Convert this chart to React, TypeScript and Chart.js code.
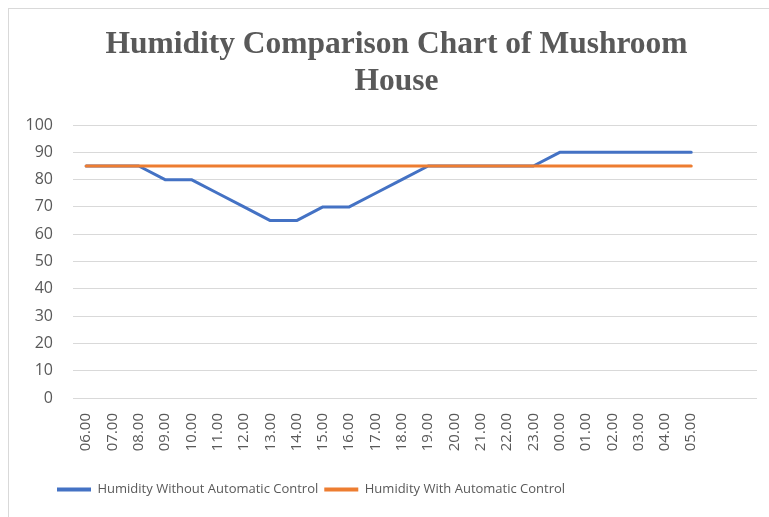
import React, { useEffect, useRef } from "react";
import { Chart, registerables } from "chart.js";

Chart.register(...registerables);

const timeLabels = [
  "06.00", "07.00", "08.00", "09.00", "10.00", "11.00", "12.00", "13.00",
  "14.00", "15.00", "16.00", "17.00", "18.00", "19.00", "20.00", "21.00",
  "22.00", "23.00", "00.00", "01.00", "02.00", "03.00", "04.00", "05.00",
  "", "",
];

const withoutControl = [
  85, 85, 85, 80, 80, 75, 70, 65, 65, 70, 70, 75, 80, 85, 85, 85, 85, 85,
  90, 90, 90, 90, 90, 90,
];

const withControl = [
  85, 85, 85, 85, 85, 85, 85, 85, 85, 85, 85, 85, 85, 85, 85, 85, 85, 85,
  85, 85, 85, 85, 85, 85,
];

const seriesNames = [
  "Humidity Without Automatic Control",
  "Humidity With Automatic Control",
];

const titleLines = ["Humidity Comparison Chart of Mushroom", "House"];

const BLUE = "#4472C4";
const ORANGE = "#ED7D31";
const TEXT = "#595959";
const GRID = "#D9D9D9";

const boxPlacement = {
  id: "boxPlacement",
  afterLayout(chart: any) {
    const lg = chart.legend;
    if (lg) {
      const pad = lg.options.labels.padding;
      const dx = 57 - pad - lg.left;
      lg.left += dx;
      lg.right += dx;
    }
    const tb = chart.titleBlock;
    if (tb) {
      const dx = 396.5 - (tb.left + tb.right) / 2;
      tb.left += dx;
      tb.right += dx;
    }
  },
};

export default function App() {
  const ref = useRef<HTMLCanvasElement | null>(null);

  useEffect(() => {
    if (!ref.current) return;
    const chart = new Chart(ref.current, {
      type: "line",
      data: {
        labels: timeLabels,
        datasets: [
          {
            label: seriesNames[0],
            data: withoutControl,
            borderColor: BLUE,
            backgroundColor: BLUE,
            borderWidth: 3,
            pointRadius: 0,
            tension: 0,
            borderCapStyle: "round",
            borderJoinStyle: "round",
            order: 1,
          },
          {
            label: seriesNames[1],
            data: withControl,
            borderColor: ORANGE,
            backgroundColor: ORANGE,
            borderWidth: 3,
            pointRadius: 0,
            tension: 0,
            borderCapStyle: "round",
            borderJoinStyle: "round",
            order: 0,
          },
        ],
      },
      options: {
        animation: false,
        responsive: false,
        maintainAspectRatio: false,
        layout: { padding: { left: 15, right: 12, top: 26.5, bottom: 11 } },
        plugins: {
          title: {
            display: true,
            text: titleLines,
            color: TEXT,
            font: { family: "'Liberation Serif', serif", size: 31.5, weight: "bold", lineHeight: 1.18 },
            padding: { top: 0, bottom: 24.2 },
          },
          legend: {
            position: "bottom",
            align: "start",
            labels: {
              color: TEXT,
              font: { family: "'Open Sans', sans-serif", size: 13 },
              boxWidth: 34,
              boxHeight: 4,
              padding: 6,
              generateLabels(chart: any) {
                return chart.data.datasets.map((ds: any, i: number) => ({
                  text: ds.label,
                  fillStyle: ds.borderColor,
                  strokeStyle: ds.borderColor,
                  lineWidth: 0,
                  fontColor: TEXT,
                  hidden: false,
                  datasetIndex: i,
                }));
              },
            },
          },
          tooltip: { enabled: false },
        },
        scales: {
          x: {
            offset: true,
            grid: { display: false, drawTicks: false },
            border: { display: false },
            ticks: {
              color: TEXT,
              font: { family: "'Open Sans', sans-serif", size: 15 },
              minRotation: 90,
              maxRotation: 90,
              autoSkip: false,
              padding: 15,
            },
            afterFit(scale: any) {
              scale.height = 79;
              scale.paddingLeft = 0;
              scale.paddingRight = 0;
            },
          },
          y: {
            min: 0,
            max: 100,
            grid: { color: GRID, lineWidth: 1, drawTicks: false },
            border: { display: false },
            ticks: {
              stepSize: 10,
              color: TEXT,
              font: { family: "'Open Sans', sans-serif", size: 16 },
              padding: 20,
            },
            afterFit(scale: any) {
              scale.width = 58;
              scale.paddingTop = 0;
              scale.paddingBottom = 0;
            },
          },
        },
      },
      plugins: [boxPlacement],
    });
    return () => chart.destroy();
  }, []);

  return (
    <div
      style={{
        position: "absolute",
        left: 0,
        top: 0,
        width: 769,
        height: 517,
        overflow: "hidden",
        background: "#fff",
      }}
    >
      <canvas ref={ref} width={769} height={517} style={{ position: "absolute", left: 0, top: 0 }} />
      <div
        style={{
          position: "absolute",
          left: 8,
          top: 8,
          width: 800,
          height: 600,
          border: "1px solid #D9D9D9",
          pointerEvents: "none",
        }}
      />
    </div>
  );
}
